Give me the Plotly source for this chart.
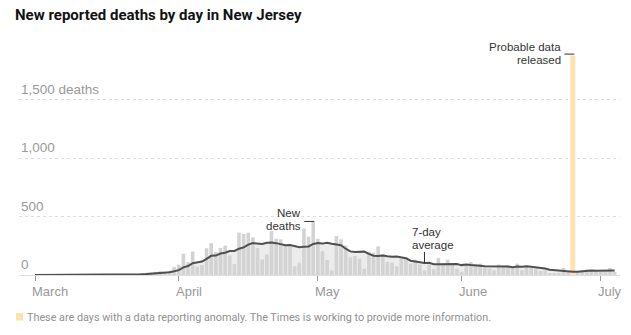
import pandas as pd
import plotly.graph_objects as go

# ---------------- data ----------------
start_date = "2020-03-01"
deaths = [
    # March
    0, 0, 0, 0, 0, 0, 0, 0, 0, 1, 0, 0, 0, 1, 0, 1, 2, 4, 2, 5, 4, 0, 7, 17, 18, 19, 27, 32, 21, 37, 69,
    # April
    88, 182, 109, 200, 71, 86, 229, 272, 196, 232, 251, 167, 93, 362, 351, 362, 322, 230, 132, 175,
    376, 310, 305, 249, 246, 75, 106, 398, 328, 458,
    # May
    310, 204, 129, 39, 334, 305, 252, 151, 163, 140, 54, 200, 190, 245, 180, 111, 106, 74, 140, 150,
    97, 131, 89, 40, 90, 49, 146, 97, 131, 89, 54,
    # June
    26, 89, 111, 89, 97, 60, 54, 40, 89, 83, 83, 60, 97, 40, 68, 60, 54, 34, 40, 17,
    17, 12, 60, 26, 27, 34, 40, 48, 40, 34,
    # July
    26, 31, 60, 26,
]
anomaly_dates = ["2020-06-25"]
anomaly_values = [1877]

month_ticks = ["2020-03-01", "2020-04-01", "2020-05-01", "2020-06-01", "2020-07-01"]
month_labels = ["March", "April", "May", "June", "July"]
y_ticks = [0, 500, 1000, 1500]
y_labels = ["0", "500", "1,000", "1,500 deaths"]

# ---------------- derived ----------------
dates = pd.date_range(start_date, periods=len(deaths), freq="D")
series = pd.Series(deaths, index=dates, dtype=float)
avg7 = series.rolling(7, min_periods=1).mean()
anom_idx = pd.to_datetime(anomaly_dates)
regular = series.drop(anom_idx)

DAY_MS = 86400000
t0 = pd.Timestamp(start_date)
x_range = [t0 - pd.Timedelta(days=3.45), t0 + pd.Timedelta(days=126.16)]
y_range = [0, 1941]

GREY_TXT = "#999999"
DARK_TXT = "#333333"
FONT = "Liberation Sans, Arial, sans-serif"
TITLE_FONT = "Roboto, Liberation Sans, sans-serif"
ORANGE = "#fde2ad"

fig = go.Figure()

# light area under the 7-day average (main axes, drawn beneath bars)
fig.add_trace(go.Scatter(
    x=dates, y=avg7.values, mode="lines", fill="tozeroy",
    fillcolor="#ececec", line=dict(width=0, color="#ececec"),
    hoverinfo="skip", showlegend=False,
))

# daily bars (overlay axes, drawn above the area)
fig.add_trace(go.Bar(
    x=regular.index, y=regular.values, width=0.78 * DAY_MS,
    marker=dict(color="#d3d3d3", line=dict(width=0)),
    xaxis="x2", yaxis="y2", showlegend=False, hoverinfo="skip",
))
fig.add_trace(go.Bar(
    x=anom_idx, y=anomaly_values, width=1.05 * DAY_MS,
    marker=dict(color=ORANGE, line=dict(width=0)),
    xaxis="x2", yaxis="y2", showlegend=False, hoverinfo="skip",
))
# 7-day average line
fig.add_trace(go.Scatter(
    x=dates, y=avg7.values, mode="lines",
    line=dict(color="#4f4f4f", width=2),
    xaxis="x2", yaxis="y2", showlegend=False, hoverinfo="skip",
))

annotations = []
# y labels
for v, lab in zip(y_ticks, y_labels):
    annotations.append(dict(
        xref="paper", yref="y", x=0, y=v, xanchor="left", yanchor="bottom",
        text=lab, showarrow=False, yshift=1,
        font=dict(family=FONT, size=13.5, color=GREY_TXT),
    ))
# x labels
for d, lab in zip(month_ticks, month_labels):
    annotations.append(dict(
        xref="x", yref="paper", x=d, y=0, xanchor="left", yanchor="top",
        text=lab, showarrow=False, xshift=-5, yshift=-7,
        font=dict(family=FONT, size=13, color=GREY_TXT),
    ))

ANN_SIZE = 11.5
# "New deaths" annotation
peak_date = series.idxmax()
peak_val = series.max()
for txt, ys in (("New", 8.6), ("deaths", -4.4)):
    annotations.append(dict(
        xref="x", yref="y", x=peak_date, y=peak_val, xanchor="right", yanchor="middle",
        text=txt, showarrow=False, xshift=-10, yshift=ys,
        font=dict(family=FONT, size=ANN_SIZE, color=DARK_TXT),
    ))
# "7-day average"
avg_date = pd.Timestamp("2020-05-24")
avg_val = avg7.loc[avg_date]
for txt, ys in (("7-day", 30.9), ("average", 17.9)):
    annotations.append(dict(
        xref="x", yref="y", x=avg_date, y=avg_val, xanchor="left", yanchor="middle",
        text=txt, showarrow=False, xshift=-15, yshift=ys,
        font=dict(family=FONT, size=ANN_SIZE, color=DARK_TXT),
    ))
# "Probable data released"
for txt, ys in (("Probable data", 8.9), ("released", -4.1)):
    annotations.append(dict(
        xref="x", yref="y", x=anom_idx[0], y=anomaly_values[0], xanchor="right", yanchor="middle",
        text=txt, showarrow=False, xshift=-9.5, yshift=ys,
        font=dict(family=FONT, size=ANN_SIZE, color=DARK_TXT),
    ))
# footer
annotations.append(dict(
    xref="paper", yref="paper", x=(25 - 19) / 601, y=(275 - 317.5) / 227,
    xanchor="left", yanchor="middle", showarrow=False,
    text="These are days with a data reporting anomaly. The Times is working to provide more information.",
    font=dict(family=TITLE_FONT, size=10.8, color="#909090"),
))

shapes = [
    # New deaths leader
    dict(type="line", xref="x", yref="y", xsizemode="pixel", xanchor=peak_date,
         x0=-9, x1=1, y0=peak_val, y1=peak_val, line=dict(color=DARK_TXT, width=1)),
    # 7-day average leader
    dict(type="line", xref="x", yref="y", ysizemode="pixel", yanchor=avg_val,
         x0=avg_date, x1=avg_date, y0=0, y1=11, line=dict(color=DARK_TXT, width=1)),
    # Probable data leader
    dict(type="line", xref="x", yref="y", xsizemode="pixel", xanchor=anom_idx[0],
         x0=-8.5, x1=1.5, y0=anomaly_values[0] + 12, y1=anomaly_values[0] + 12,
         line=dict(color=DARK_TXT, width=1)),
    # footer swatch
    dict(type="rect", xref="paper", yref="paper",
         x0=(16 - 19) / 601, x1=(23 - 19) / 601,
         y0=(275 - 320.5) / 227, y1=(275 - 313) / 227,
         fillcolor=ORANGE, line=dict(width=0)),
]

fig.update_layout(
    width=631, height=335,
    margin=dict(l=19, r=11, t=48, b=60),
    paper_bgcolor="white", plot_bgcolor="white",
    barmode="overlay",
    title=dict(
        text="<b>New reported deaths by day in New Jersey</b>",
        xref="container", yref="container", x=15 / 631, y=1 - 9 / 335,
        xanchor="left", yanchor="top",
        font=dict(family=TITLE_FONT, size=15, color="#121212"),
    ),
    xaxis=dict(
        type="date", range=x_range, tickvals=month_ticks, ticks="outside",
        ticklen=5, tickcolor=GREY_TXT, tickwidth=1, showticklabels=False,
        showgrid=False, zeroline=False, showline=True, linecolor="#dddddd",
        linewidth=1, layer="below traces", fixedrange=True,
    ),
    yaxis=dict(
        range=y_range, tickvals=y_ticks[1:], showticklabels=False,
        showgrid=True, gridcolor="#dddddd", griddash="3px,3px", gridwidth=1,
        zeroline=False, showline=False, ticks="", fixedrange=True,
    ),
    xaxis2=dict(type="date", overlaying="x", range=x_range, visible=False, fixedrange=True),
    yaxis2=dict(overlaying="y", range=y_range, visible=False, fixedrange=True),
    annotations=annotations,
    shapes=shapes,
    showlegend=False,
)

fig.write_html("out.html", config={"displayModeBar": False})
